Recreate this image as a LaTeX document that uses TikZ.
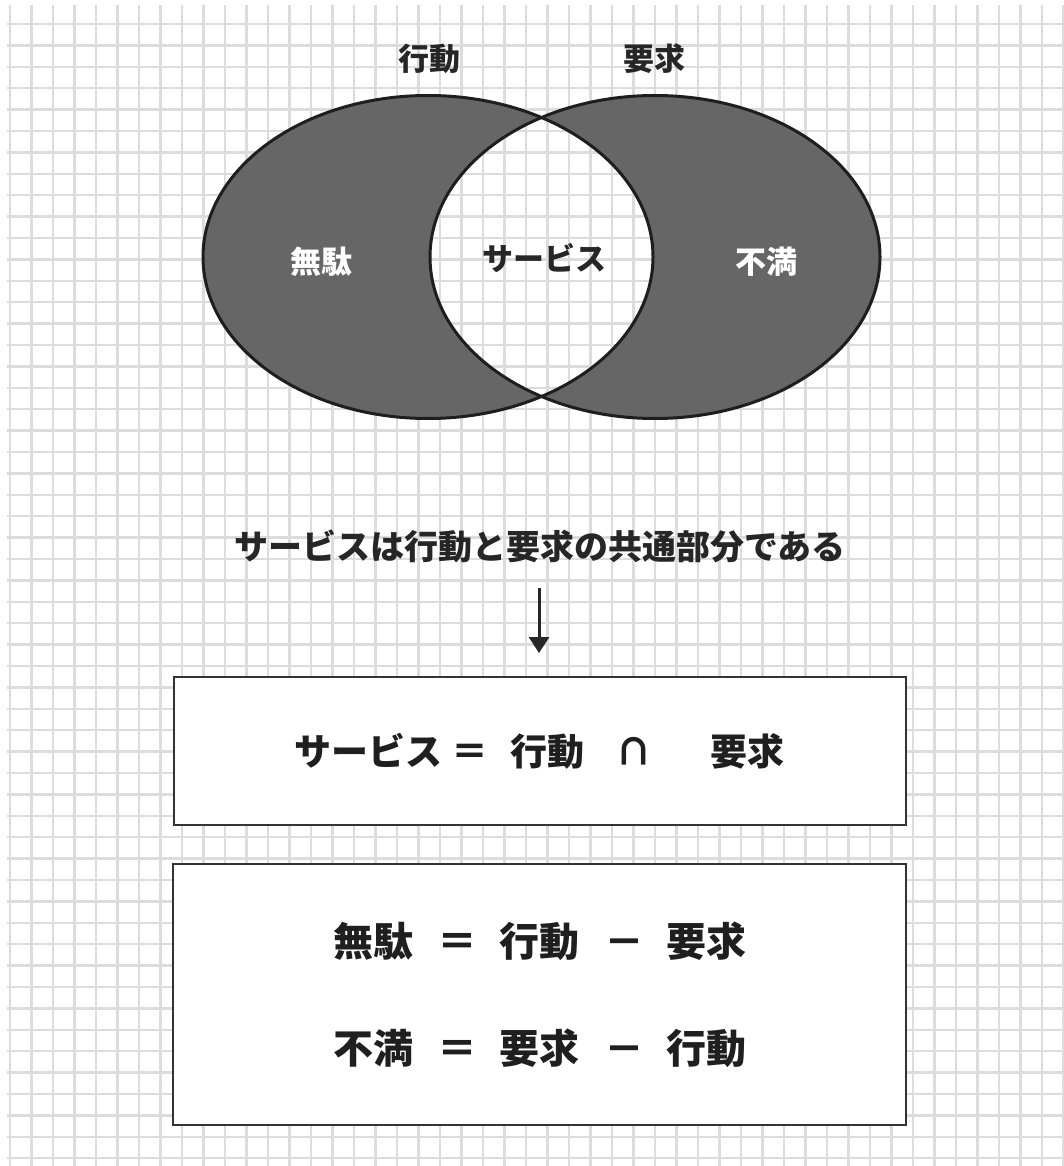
\documentclass[tikz,border=0pt]{standalone}
\usepackage{fontspec}
\newfontfamily\jp{Noto Sans CJK JP}
\usetikzlibrary{arrows.meta}
\definecolor{gridc}{HTML}{DCDCDF}
\definecolor{crescent}{HTML}{666667}
\definecolor{edge}{HTML}{1E1E1E}
\tikzset{
  gridline/.style={draw=gridc, line width=2.4pt},
  vennedge/.style={draw=edge, line width=3pt},
  setlabel/.style={font=\jp\bfseries\fontsize{31}{31}\selectfont, text=black!85, inner sep=0pt},
  inlabel/.style={font=\jp\bfseries\fontsize{31}{31}\selectfont, inner sep=0pt},
  sentence/.style={font=\jp\bfseries\fontsize{34}{34}\selectfont, text=black!85, inner sep=0pt},
  formulaA/.style={font=\jp\bfseries\fontsize{37}{37}\selectfont, text=black!88, inner sep=0pt, anchor=west},
  formulaB/.style={font=\jp\bfseries\fontsize{40}{40}\selectfont, text=black!88, inner sep=0pt, anchor=west},
  framebox/.style={draw=black!80, line width=2pt, fill=white},
  downarrow/.style={draw=black!85, line width=3pt, -{Triangle[width=20pt,length=16pt]}}
}
\begin{document}
\begin{tikzpicture}[x=1pt,y=-1pt]
\useasboundingbox (0,0) rectangle (1064,1166);
\fill[white] (0,0) rectangle (1064,1166);
% grid
\foreach \i in {0,...,49} \draw[gridline] ({10+21.5*\i},5) -- ({10+21.5*\i},1166);
\foreach \j in {0,...,53} \draw[gridline] (7,{24+21.4*\j}) -- (1064,{24+21.4*\j});
% Venn diagram
\coordinate (cA) at (428,257);
\coordinate (cB) at (655,257);
\fill[crescent, even odd rule] (cA) ellipse [x radius=225pt, y radius=161.5pt]
                               (cB) ellipse [x radius=225pt, y radius=161.5pt];
\draw[vennedge] (cA) ellipse [x radius=225pt, y radius=161.5pt];
\draw[vennedge] (cB) ellipse [x radius=225pt, y radius=161.5pt];
\node[setlabel] (lA) at (429,59) {行動};
\node[setlabel] (lB) at (654,59) {要求};
\node[inlabel, text=white] (muda) at (321,262) {無駄};
\node[inlabel, text=black!85] (serv) at (544,258) {サービス};
\node[inlabel, text=white] (fuman) at (766,262) {不満};
% sentence and arrow
\node[sentence] (sent) at (540,546) {サービスは行動と要求の共通部分である};
\coordinate (arrS) at (539,588);
\coordinate (arrE) at (539,653);
\draw[downarrow] (arrS) -- (arrE);
% boxes
\path[framebox] (174,677) rectangle (906,825);
\node[formulaA] (f1) at (294,751) {サービス\hspace{9.5pt}＝\hspace{21.5pt}行動\hspace{31.5pt}∩\hspace{57.5pt}要求};
\path[framebox] (173,864) rectangle (906,1125);
\node[formulaB] (f2) at (333,941) {無駄\hspace{24pt}＝\hspace{22.5pt}行動\hspace{24.5pt}－\hspace{22pt}要求};
\node[formulaB] (f3) at (333,1048) {不満\hspace{24pt}＝\hspace{22.5pt}要求\hspace{24.5pt}－\hspace{22pt}行動};
\end{tikzpicture}
\end{document}
